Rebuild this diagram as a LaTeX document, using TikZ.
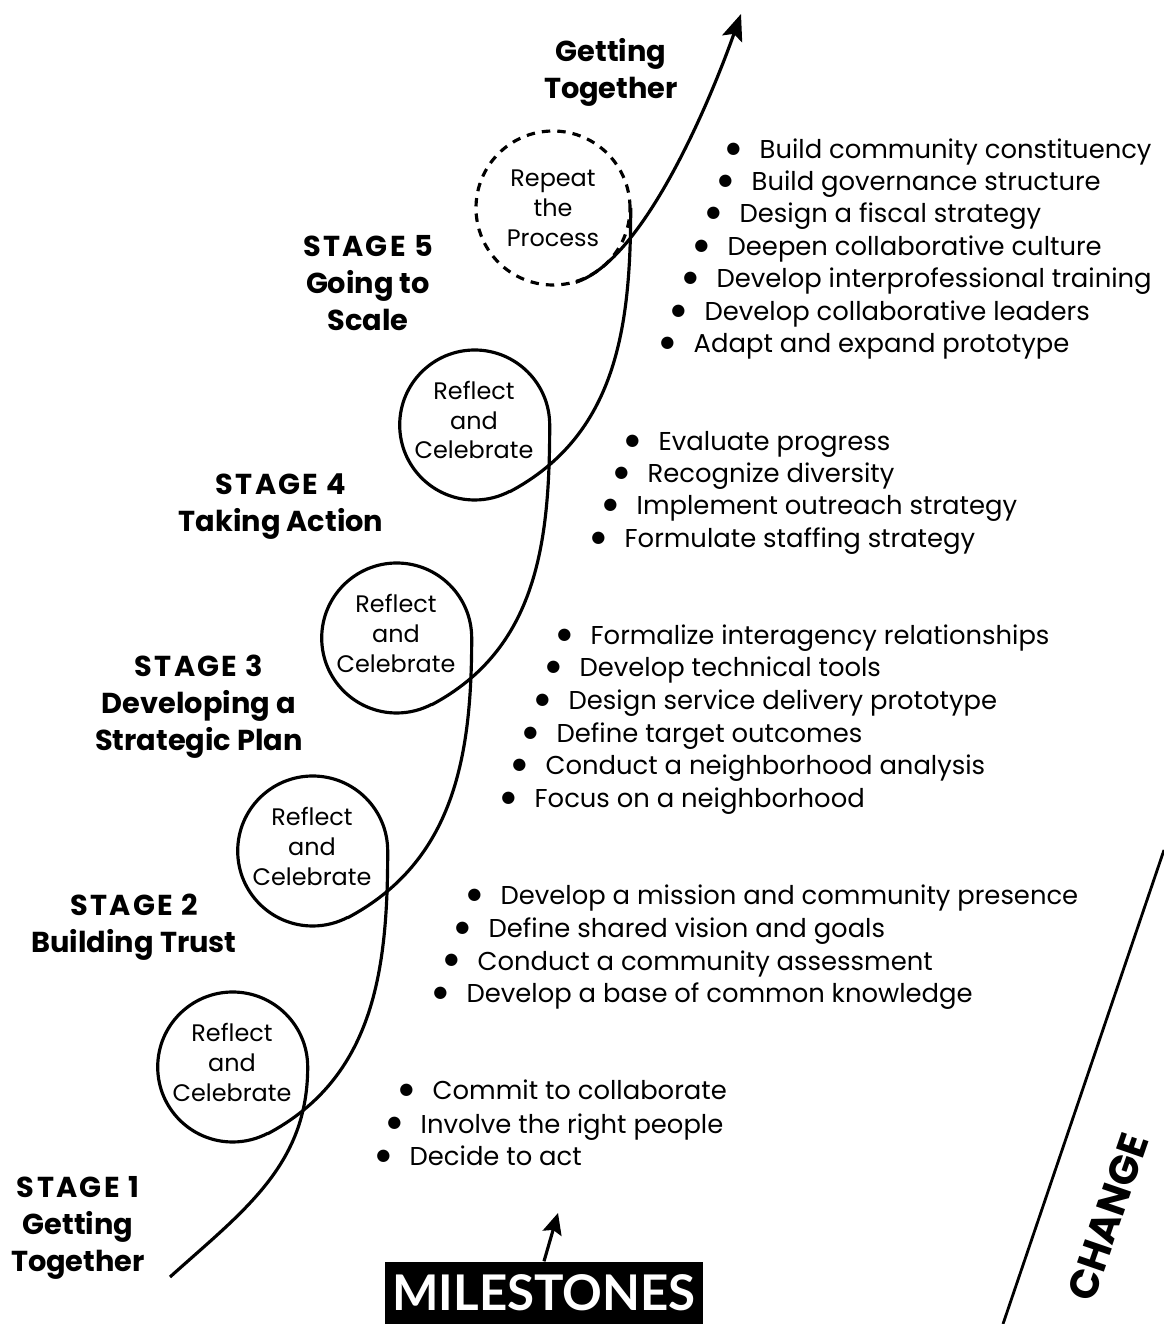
\documentclass[tikz,border=0pt]{standalone}
\usepackage{fontspec}
\setmainfont{Poppins}
\newfontfamily\msfont{Lato}
\newfontfamily\symfont{DejaVu Sans}
\usetikzlibrary{arrows.meta}
\newcommand\bul{\makebox[0pt][r]{\raisebox{1.6pt}{\symfont\fontsize{4.6}{5}\selectfont ●}\hspace{5.5pt}}}
\newcommand\stg[1]{{\addfontfeature{LetterSpace=8}#1}}
\tikzset{
    strand/.style={line width=0.9pt},
    loopc/.style={circle, minimum size=1.50cm, inner sep=0pt, text depth=0.1cm, align=center, font=\fontsize{6.8}{8.5}\selectfont},
    stagetxt/.style={align=center, inner sep=0pt, font=\bfseries\fontsize{8.2}{10.5}\selectfont},
    itm/.style={anchor=base west, inner sep=0pt, font=\fontsize{7.35}{9}\selectfont},
    msbox/.style={fill=black, text=white, minimum width=3.18cm, minimum height=0.62cm, inner sep=0pt, font=\msfont\bfseries\fontsize{14}{16}\selectfont}
}

\begin{document}
\begin{tikzpicture}
            \useasboundingbox                                       (0.00, 0.00) rectangle (11.64, 13.24);
            \node[loopc]                         (rc1)  at ( 2.32,  2.57) {Reflect\\and\\Celebrate};
            \node[loopc]                         (rc2)  at ( 3.12,  4.73) {Reflect\\and\\Celebrate};
            \node[loopc]                         (rc3)  at ( 3.96,  6.86) {Reflect\\and\\Celebrate};
            \node[loopc]                         (rc4)  at ( 4.74,  8.99) {Reflect\\and\\Celebrate};
            \node[loopc, text depth=0pt, minimum size=1.54cm] (rep) at ( 5.53, 11.16) {Repeat\\the\\Process};
            \draw[line width=0.9pt, dash pattern=on 2.4pt off 2pt]  (rep.center) circle (0.77);
            \draw[strand] (rc1.0) arc[start angle=0, end angle=298, radius=0.75cm];
            \draw[strand] (rc2.0) arc[start angle=0, end angle=298, radius=0.75cm];
            \draw[strand] (rc3.0) arc[start angle=0, end angle=298, radius=0.75cm];
            \draw[strand] (rc4.0) arc[start angle=0, end angle=298, radius=0.75cm];
            \coordinate                          (start)  at ( 1.70,  0.47);
            \coordinate                          (arrtip) at ( 7.41, 13.10);
            \draw[strand] (start)    to[out=42, in=-90] (rc1.0);
            \draw[strand] (rc1.-62)  to[out=28, in=-90] (rc2.0);
            \draw[strand] (rc2.-62)  to[out=28, in=-90] (rc3.0);
            \draw[strand] (rc3.-62)  to[out=28, in=-90] (rc4.0);
            \draw[strand] (rc4.-62)  to[out=28, in=-90] (rep.0);
            \draw[strand, -{Stealth[length=7.5pt, width=6pt, inset=1.5pt]}] (rep.-73) .. controls (6.40, 10.62) and (7.05, 12.09) .. (arrtip);

            \node[stagetxt]                      (top)  at ( 6.11, 12.52) {Getting\\Together};
            \node[stagetxt]                      (s5)   at ( 3.68, 10.41) {\stg{STAGE 5}\\Going to\\Scale};
            \node[stagetxt]                      (s4)   at ( 2.81,  8.17) {\stg{STAGE 4}\\Taking Action};
            \node[stagetxt]                      (s3)   at ( 1.99,  6.17) {\stg{STAGE 3}\\Developing a\\Strategic Plan};
            \node[stagetxt]                      (s2)   at ( 1.34,  3.97) {\stg{STAGE 2}\\Building Trust};
            \node[stagetxt]                      (s1)   at ( 0.78,  0.96) {\stg{STAGE 1}\\Getting\\Together};

            \node[itm] (m5a) at (7.59, 11.65) {\bul Build community constituency};
            \node[itm] (m5b) at (7.51, 11.33) {\bul Build governance structure};
            \node[itm] (m5c) at (7.39, 11.01) {\bul Design a fiscal strategy};
            \node[itm] (m5d) at (7.27, 10.68) {\bul Deepen collaborative culture};
            \node[itm] (m5e) at (7.16, 10.36) {\bul Develop interprofessional training};
            \node[itm] (m5f) at (7.04, 10.03) {\bul Develop collaborative leaders};
            \node[itm] (m5g) at (6.93,  9.71) {\bul Adapt and expand prototype};

            \node[itm] (m4a) at (6.58,  8.73) {\bul Evaluate progress};
            \node[itm] (m4b) at (6.47,  8.41) {\bul Recognize diversity};
            \node[itm] (m4c) at (6.36,  8.09) {\bul Implement outreach strategy};
            \node[itm] (m4d) at (6.24,  7.76) {\bul Formulate staffing strategy};

            \node[itm] (m3a) at (5.90,  6.79) {\bul Formalize interagency relationships};
            \node[itm] (m3b) at (5.79,  6.47) {\bul Develop technical tools};
            \node[itm] (m3c) at (5.68,  6.14) {\bul Design service delivery prototype};
            \node[itm] (m3d) at (5.56,  5.81) {\bul Define target outcomes};
            \node[itm] (m3e) at (5.45,  5.49) {\bul Conduct a neighborhood analysis};
            \node[itm] (m3f) at (5.34,  5.16) {\bul Focus on a neighborhood};

            \node[itm] (m2a) at (5.00,  4.19) {\bul Develop a mission and community presence};
            \node[itm] (m2b) at (4.88,  3.86) {\bul Define shared vision and goals};
            \node[itm] (m2c) at (4.77,  3.54) {\bul Conduct a community assessment};
            \node[itm] (m2d) at (4.66,  3.21) {\bul Develop a base of common knowledge};

            \node[itm] (m1a) at (4.32,  2.24) {\bul Commit to collaborate};
            \node[itm] (m1b) at (4.20,  1.91) {\bul Involve the right people};
            \node[itm] (m1c) at (4.09,  1.58) {\bul Decide to act};

            \node[msbox]                         (ms)     at ( 5.44,  0.31) {MILESTONES};
            \coordinate                          (mstip)  at ( 5.58,  1.11);
            \draw[strand, -{Stealth[length=6pt, width=5.5pt, inset=1pt]}] (ms.north) -- (mstip);

            \coordinate                          (chlow)  at (10.03,  0.00);
            \coordinate                          (chhigh) at (11.64,  4.74);
            \draw[line width=0.8pt] (chlow) -- (chhigh);
            \node[rotate=71, inner sep=0pt, font=\bfseries\fontsize{11.5}{13}\selectfont] (chg) at (11.08, 1.07) {CHANGE};
\end{tikzpicture}
\end{document}
